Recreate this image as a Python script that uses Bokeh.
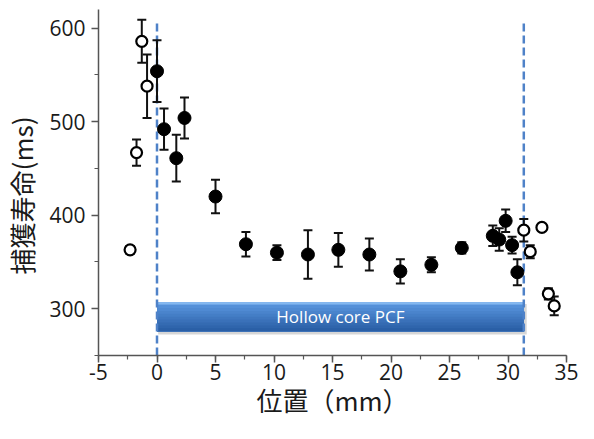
import math
import numpy as np
from bokeh.plotting import figure
from bokeh.models import Range1d, SingleIntervalTicker, PrintfTickFormatter
from bokeh.core.properties import value
from bokeh.embed import file_html
from bokeh.resources import INLINE

# ---- data ----
open_x = [-2.3, -1.75, -1.3, -0.85, 31.35, 31.9, 32.9, 33.45, 33.95]
open_y = [363, 467, 586, 538, 384, 361, 387, 316, 303]
open_err = [4, 14, 23, 34, 12, 7, 2, 6, 10]

filled_x = [0.0, 0.6, 1.65, 2.35, 5.0, 7.6, 10.25, 12.9, 15.5, 18.15,
            20.8, 23.45, 26.05, 28.7, 29.25, 29.8, 30.35, 30.8]
filled_y = [554, 492, 461, 504, 420, 369, 360, 358, 363, 358,
            340, 347, 365, 378, 374, 394, 368, 339]
filled_err = [33, 22, 25, 22, 18, 13, 8, 26, 18, 17,
              13, 8, 6, 11, 12, 12, 9, 14]

fiber_bounds = [0.0, 31.35]          # fiber entrance / exit (mm)
fiber_label = "Hollow core PCF"
fiber_band = [276, 307]              # vertical extent of the fiber bar (ms axis)
dash_top = 607

x_label = "位置（mm）"
y_label = "捕獲寿命(ms)"

X_MIN, X_MAX = -5, 35
Y_MIN, Y_MAX = 250, 620

W, H = 578, 423

# ---- figure ----
p = figure(width=W, height=H, output_backend="svg", toolbar_location=None,
           x_range=Range1d(X_MIN, X_MAX), y_range=Range1d(Y_MIN, Y_MAX),
           min_border_left=88, min_border_right=12, min_border_top=9,
           min_border_bottom=68)
p.grid.visible = False
p.outline_line_color = None
p.background_fill_color = "white"
p.border_fill_color = "white"

p.xaxis.ticker = SingleIntervalTicker(interval=5, num_minor_ticks=2)
p.yaxis.ticker = SingleIntervalTicker(interval=100, num_minor_ticks=2)
for ax in (p.xaxis, p.yaxis):
    ax.formatter = PrintfTickFormatter(format="%d")
    ax.axis_line_color = "#555555"
    ax.axis_line_width = 1.5
    ax.major_tick_line_color = "#555555"
    ax.minor_tick_line_color = "#555555"
    ax.major_tick_line_width = 1.5
    ax.minor_tick_line_width = 1.2
    ax.major_tick_out = 7
    ax.major_tick_in = 0
    ax.minor_tick_out = 4
    ax.minor_tick_in = 0
    ax.major_label_text_font = "Open Sans"
    ax.major_label_text_font_size = "21px"
    ax.major_label_text_color = "#1a1a1a"
    ax.axis_label_text_font = "Noto Sans CJK JP"
    ax.axis_label_text_font_size = "26px"
    ax.axis_label_text_font_style = "normal"
    ax.axis_label_text_color = "#1a1a1a"
p.yaxis.major_label_standoff = 6
p.xaxis.major_label_standoff = 1
p.xaxis.axis_label = x_label
p.xaxis.axis_label_standoff = -2
# trailing ideographic space nudges the rotated title down, as in the reference
p.yaxis.axis_label = y_label + "\u3000"
p.yaxis.axis_label_standoff = 6

# ---- fiber bar (layered strips approximate the gradient) ----
b0, b1 = fiber_band
f0, f1 = fiber_bounds
# shadow
p.quad(left=f0 + 0.1, right=f1 + 0.25, bottom=b0 - 3.5, top=b1 - 2,
       fill_color="#8a8a8a", fill_alpha=0.35, line_color=None)
n = 10
c_top = np.array([0x5a, 0x97, 0xe0])
c_bot = np.array([0x2a, 0x5f, 0xa6])
edges = np.linspace(b1, b0, n + 1)
for i in range(n):
    t = i / (n - 1)
    c = (c_top * (1 - t) + c_bot * t).astype(int)
    p.quad(left=f0, right=f1, bottom=b0, top=edges[i],
           fill_color="#%02x%02x%02x" % tuple(c), line_color=None)
p.quad(left=f0, right=f1, bottom=b1 - 2.5, top=b1,
       fill_color="#84b8f0", line_color=None)
p.text(x=[(f0 + f1) / 2], y=[(b0 + b1) / 2], text=[fiber_label],
       text_font=value("Open Sans"), text_font_size="17px",
       text_color="white", text_align="center", text_baseline="middle")

# ---- dashed boundary lines ----
p.segment(x0=fiber_bounds, y0=[Y_MIN] * 2, x1=fiber_bounds, y1=[dash_top] * 2,
          line_color="#4f82c8", line_width=2.5, line_dash="8 4")

# ---- error bars ----
def errbars(xs, ys, es):
    xs = np.array(xs, float)
    ys = np.array(ys, float)
    es = np.array(es, float)
    p.segment(x0=xs, y0=ys - es, x1=xs, y1=ys + es,
              line_color="#111111", line_width=2)
    p.scatter(x=np.concatenate([xs, xs]), y=np.concatenate([ys - es, ys + es]),
              marker="dash", size=9, line_color="#111111", line_width=2)

errbars(filled_x, filled_y, filled_err)
errbars(open_x, open_y, open_err)

# ---- markers ----
p.scatter(x=filled_x, y=filled_y, size=13, marker="circle",
          fill_color="black", line_color="black", line_width=1)
p.scatter(x=open_x, y=open_y, size=11, marker="circle",
          fill_color="white", line_color="black", line_width=2.2)

open("out.html", "w").write(file_html(p, INLINE))
